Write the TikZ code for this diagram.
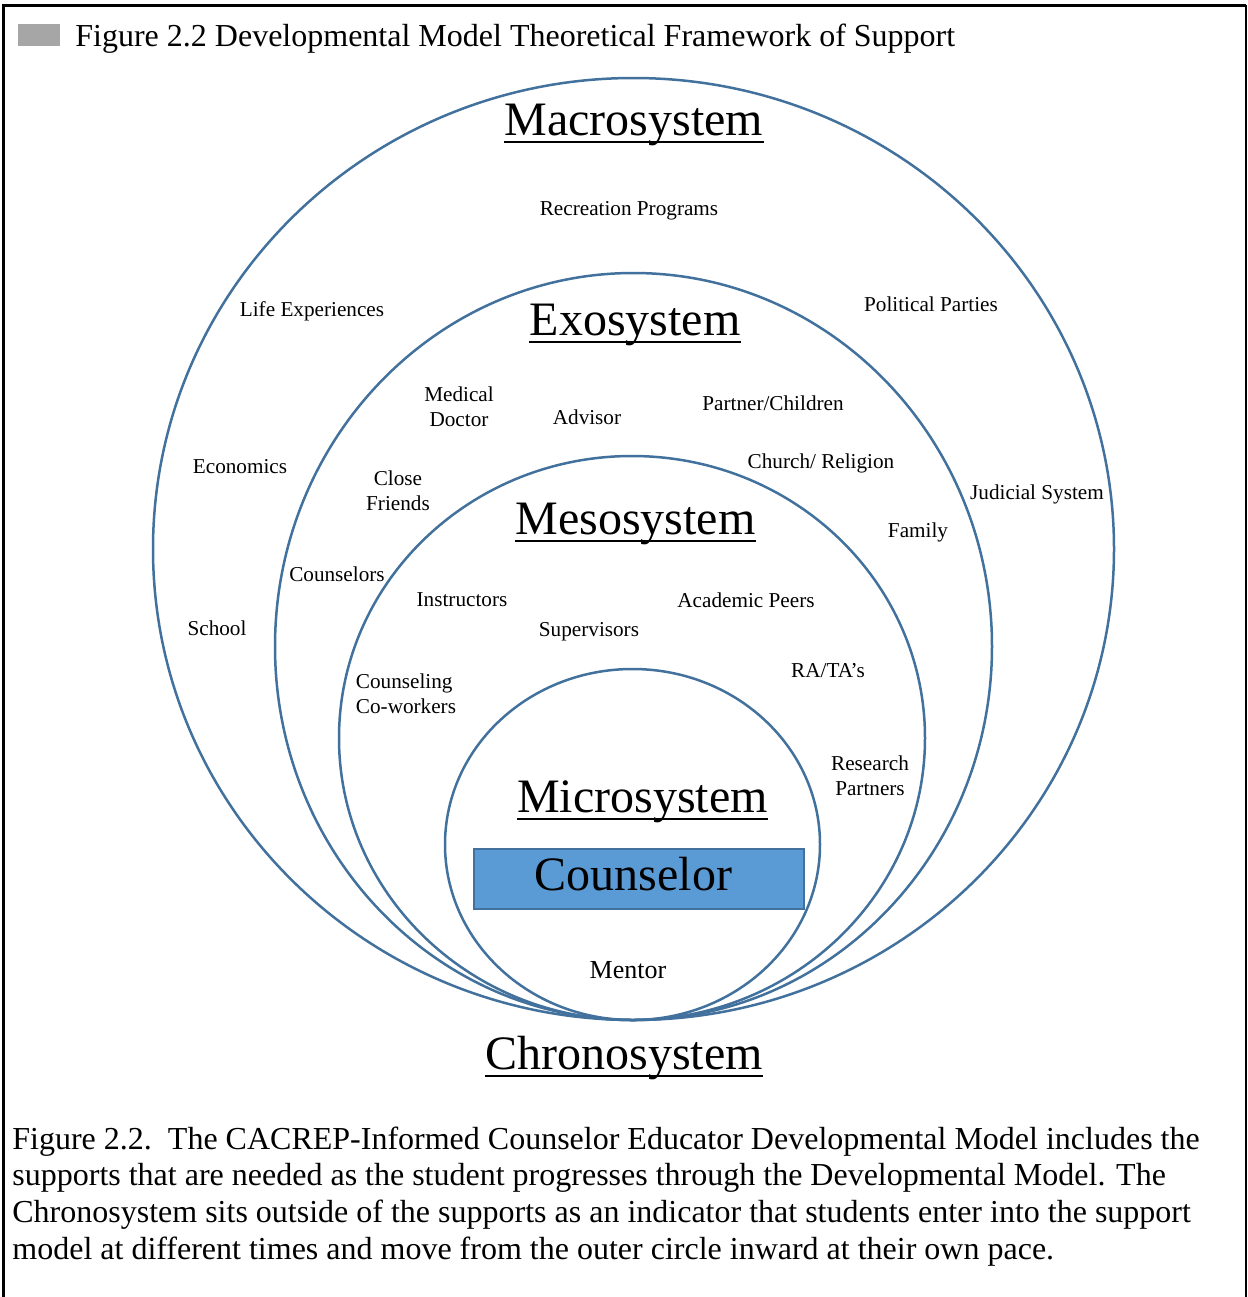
\documentclass[tikz,border=0pt]{standalone}
\usepackage{fontspec}
\setmainfont{Liberation Serif}
\usetikzlibrary{positioning}
\definecolor{ringblue}{RGB}{65,113,156}
\definecolor{boxblue}{RGB}{91,155,213}
\tikzset{
    %Define style for the system rings
    ring/.style={
           draw=ringblue,
           line width=1.25pt},
    %Define style for system names
    sysname/.style={
           font=\fontsize{24}{28}\selectfont,
           anchor=base,
           inner sep=0pt},
    %Define style for supports
    support/.style={
           font=\fontsize{10.6}{12.5}\selectfont,
           inner sep=0pt,
           align=center},
    % Define style for the centre box
    core/.style={
           draw=ringblue, line width=1pt,
           fill=boxblue,
           minimum width=330*0.5pt,
           minimum height=60*0.5pt,
           text depth=5pt,
           font=\fontsize{24}{28}\selectfont,
           inner sep=0pt}
}
\begin{document}
\begin{tikzpicture}[x=0.5pt,y=-0.5pt]
\useasboundingbox (0,0) rectangle (1248,1297);
%frame
\draw[line width=1.5pt] (3,1297) -- (3,5) -- (1246,5);
\draw[line width=1pt] (1246,5) -- (1246,1297);
 %heading
\fill[black!35] (18,24) rectangle (60,46);
\node[anchor=base west, inner sep=0pt, font=\fontsize{16}{19}\selectfont] (head) at (75,46)
    {Figure 2.2 Developmental Model Theoretical Framework of Support};
 %rings
\draw[ring] (633.5,549) ellipse [x radius=480.5, y radius=471];
\draw[ring] (633.5,646.5) ellipse [x radius=358.5, y radius=373.5];
\draw[ring] (632,738) ellipse [x radius=293, y radius=282];
\draw[ring] (632.5,844.5) ellipse [x radius=187.5, y radius=175.5];
 %system names
\node[sysname] (macro) at (634,135) {Macrosystem};
\node[sysname] (exo) at (635,335) {Exosystem};
\node[sysname] (meso) at (635.5,534) {Mesosystem};
\node[sysname] (micro) at (642.5,812) {Microsystem};
\node[sysname] (chrono) at (624,1069) {Chronosystem};
\foreach \n in {macro,exo,meso,micro,chrono}
    \draw[line width=1pt] ([yshift=-3.25pt]\n.base west) -- ([yshift=-3.25pt]\n.base east);
\node[core] (self) at (638.5,878.5) {\kern-5pt Counselor};
 %supports
\node[support] (rec) at (629,211) {Recreation Programs};
\node[support] (life) at (312,311) {Life Experiences};
\node[support] (pol) at (931,304) {Political Parties};
\node[support] (econ) at (240,467) {Economics};
\node[support] (jud) at (1037,494) {Judicial System};
\node[support] (school) at (217,628) {School};
\node[support] (doc) at (459,407) {Medical\\Doctor};
\node[support] (adv) at (587,417) {Advisor};
\node[support] (fam) at (773,403) {Partner/Children};
\node[support] (close) at (398,491) {Close\\Friends};
\node[support] (church) at (821,463) {Church/ Religion};
\node[support] (family) at (918,532) {Family};
\node[support] (couns) at (337,574) {Counselors};
\node[support] (instr) at (462,600) {Instructors};
\node[support] (peers) at (746,600) {Academic Peers};
\node[support] (super) at (589,632) {Supervisors};
\node[support, align=left] (cowork) at (406,694) {Counseling\\Co-workers};
\node[support] (rata) at (828,671) {RA/TA’s};
\node[support] (resp) at (870,776) {Research\\Partners};
\node[support, font=\fontsize{13}{15}\selectfont] (mentor) at (628,970) {Mentor};
 %caption
\node[anchor=base west, inner sep=0pt, align=left, font=\fontsize{16}{18.3}\selectfont] (cap) at (12,1259)
    {Figure 2.2.\ \ The CACREP-Informed Counselor Educator Developmental Model includes the\\
     supports that are needed as the student progresses through the Developmental Model. The\\
     Chronosystem sits outside of the supports as an indicator that students enter into the support\\
     model at different times and move from the outer circle inward at their own pace.};
\end{tikzpicture}
\end{document}
